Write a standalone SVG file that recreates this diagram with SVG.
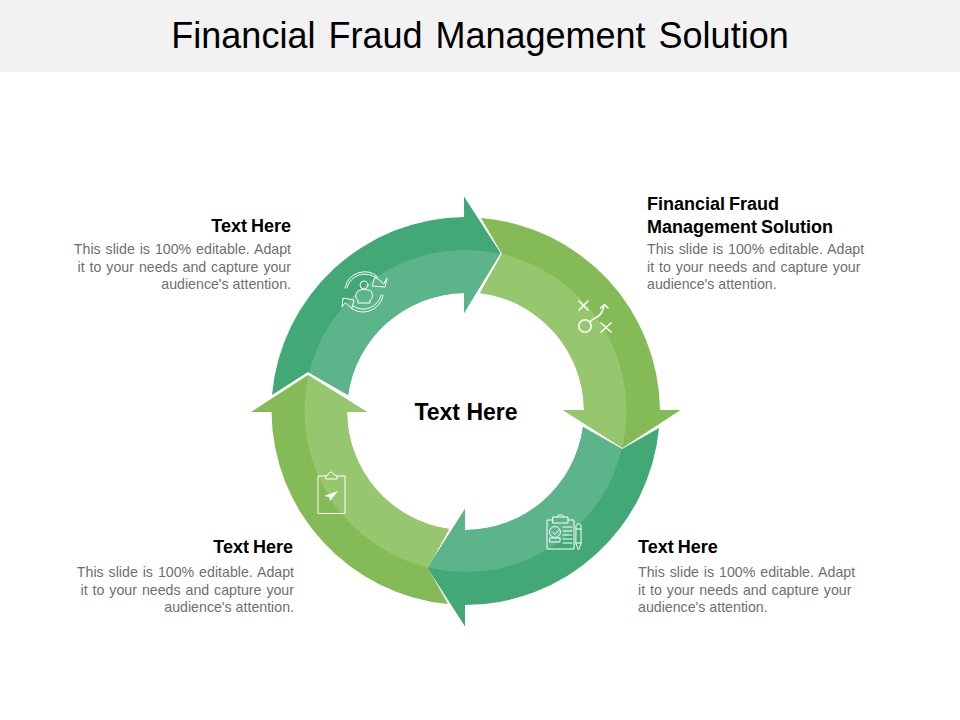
<svg xmlns="http://www.w3.org/2000/svg" xmlns:xlink="http://www.w3.org/1999/xlink" width="960" height="720" viewBox="0 0 960 720">
<style>
text{font-family:"Liberation Sans",Arial,sans-serif}
.h{font-size:18px;font-weight:700;fill:#000}
.b{font-size:14.2px;fill:#6f6f6f}
.e{text-anchor:end}
.ic{fill:none;stroke:#fff;stroke-width:1;stroke-linejoin:round;stroke-linecap:round}
.ic2{fill:none;stroke:#fff;stroke-width:1.6;stroke-linecap:round;stroke-linejoin:round}
.teal{fill:#41a876}.teal2{fill:#5cb48a}.lime{fill:#85bb56}.lime2{fill:#96c66e}
</style>
<defs>
<clipPath id="inner"><circle cx="465.5" cy="411" r="161"/></clipPath>
<path id="a1" d="M272,395L308,372L348,395A119,119 0 0 1 464,293L464,313L500.500,253L464,196.500L464,217A195,195 0 0 0 272,395Z"/>
<path id="a2" d="M481,218L502,254L480,293A119,119 0 0 1 584,410L563,410L622.500,448L680.500,410L660,410A195,195 0 0 0 481,218Z"/>
<path id="a3" d="M659,428L622,449L583,427A119,119 0 0 1 465,530L465,509L427.500,568L465,626.500L465,605A195,195 0 0 0 659,428Z"/>
<path id="a4" d="M448,604L428,568L449,529A119,119 0 0 1 347,412L367,412L308,375L251,412L271.500,412A195,195 0 0 0 448,604Z"/>
</defs>
<rect width="960" height="72" fill="#f2f2f2"/>
<text x="480" y="48" text-anchor="middle" font-size="36" word-spacing="3" fill="#000">Financial Fraud Management Solution</text>
<g id="connectors"/>
<g id="arrow-top-left"><use href="#a1" class="teal"/><use href="#a1" class="teal2" clip-path="url(#inner)"/>
<g id="icon-person">
<path class="ic" d="M345,288A20,20 0 0 1 378,277M347,288A18,18 0 0 1 376.500,278.500"/>
<path class="ic" d="M375,277L372,286L385,287L387,278L384,283.500Z"/>
<path class="ic" d="M383,295A20,20 0 0 1 351,308M381,295A18,18 0 0 1 353,306"/>
<path class="ic" d="M352,308L354,300L343,298L342,307L345,303Z"/>
<circle class="ic" cx="364" cy="285" r="4"/>
<path class="ic" d="M358,291C363,289 366,289 371,291C373,294 373,298 370,300L370,303L358,303L358,300C355,298 355,294 358,291Z"/>
</g></g>
<g id="arrow-right"><use href="#a2" class="lime"/><use href="#a2" class="lime2" clip-path="url(#inner)"/>
<g id="icon-plays">
<path class="ic2" d="M579,301L588,310M588,301L579,310M601,323L611,332M611,323L601,332"/>
<circle class="ic2" cx="585" cy="326" r="6.200"/>
<path class="ic2" d="M590,322C594,316 602,319 604,305M600.500,308L604.500,304.500L608,308"/>
</g></g>
<g id="arrow-bottom-right"><use href="#a3" class="teal"/><use href="#a3" class="teal2" clip-path="url(#inner)"/>
<g id="icon-checklist">
<path class="ic" d="M553,520L547,520L547,549L574,549L574,520L568,520M553,517L568,517L568,523L553,523ZM557,517C557,514 564,514 564,517"/>
<circle class="ic" cx="555" cy="532" r="5.500"/>
<path class="ic" d="M552.500,532L555,534.500L559,530M550,538L560,538L560,542L550,542ZM563,527L572,527M563,531L572,531M563,535L572,535M563,539L572,539M563,543L572,543"/>
<path class="ic" d="M576,526C576,523 581,523 581,526L581,544L578.500,550L576,544ZM576,529L581,529M576,543L581,543"/>
</g></g>
<g id="arrow-bottom-left"><use href="#a4" class="lime"/><use href="#a4" class="lime2" clip-path="url(#inner)"/>
<g id="icon-clipboard">
<path class="ic" stroke-width="1.200" d="M326,476L318,476L318,513.500L345,513.500L345,476L337,476M326,479L337,479L337,476L334,475C333,471 329,471 328,475L326,476Z"/>
<path d="M324,496L338,491L330,501L329,497Z" fill="#fff"/>
</g></g>
<g id="label-center"><text x="466" y="420" text-anchor="middle" font-size="23" font-weight="700" fill="#000">Text Here</text></g>
<g id="label-top-left">
<text class="h e" x="291" y="232" word-spacing="-1">Text Here</text>
<text class="b e" x="291" y="254" word-spacing="1">This slide is 100% editable.  Adapt</text>
<text class="b e" x="291" y="272" word-spacing="1">it to your needs and capture your</text>
<text class="b e" x="291" y="289">audience's attention.</text>
</g>
<g id="label-top-right">
<text class="h" x="647" y="210" word-spacing="-1">Financial Fraud</text>
<text class="h" x="647" y="233" word-spacing="-1">Management Solution</text>
<text class="b" x="647" y="254" word-spacing="1">This slide is 100% editable.  Adapt</text>
<text class="b" x="647" y="272" word-spacing="1">it to your needs and capture your</text>
<text class="b" x="647" y="289">audience's attention.</text>
</g>
<g id="label-bottom-right">
<text class="h" x="638" y="553" word-spacing="-1">Text Here</text>
<text class="b" x="638" y="577" word-spacing="1">This slide is 100% editable.  Adapt</text>
<text class="b" x="638" y="595" word-spacing="1">it to your needs and capture your</text>
<text class="b" x="638" y="612">audience's attention.</text>
</g>
<g id="label-bottom-left">
<text class="h e" x="293" y="553" word-spacing="-1">Text Here</text>
<text class="b e" x="294" y="577" word-spacing="1">This slide is 100% editable.  Adapt</text>
<text class="b e" x="294" y="595" word-spacing="1">it to your needs and capture your</text>
<text class="b e" x="294" y="612">audience's attention.</text>
</g>
</svg>
